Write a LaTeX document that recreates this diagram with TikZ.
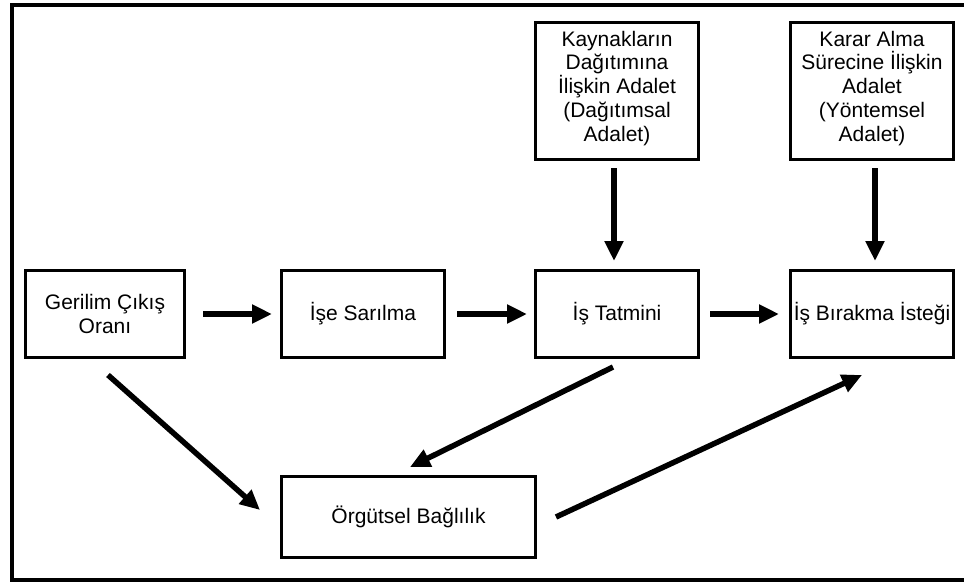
\documentclass[tikz,border=0pt]{standalone}
\usepackage{fontspec}
\setmainfont{Liberation Sans}
\usetikzlibrary{arrows.meta}
\newcommand{\lowpad}{\rule[-10pt]{0pt}{10pt}}
\begin{document}
\begin{tikzpicture}[x=1pt,y=-1pt,
  box/.style={draw,line width=3pt,align=center,inner sep=0pt,minimum height=87pt,font=\fontsize{21}{23.7}\selectfont},
  arr/.style={line width=5.5pt,-{Triangle[length=20pt,width=18pt]}},
  frame/.style={line width=4.5pt}]
\useasboundingbox (0,0) rectangle (964,582);
\draw[frame] (964,5) -- (12,5) -- (12,580) -- (964,580);
\node[box,minimum width=159pt] (g) at (105,314) {Gerilim Çıkış\\Oranı};
\node[box,minimum width=163pt] (s) at (363,314) {İşe Sarılma};
\node[box,minimum width=163pt] (t) at (617,314) {İş Tatmini};
\node[box,minimum width=163pt] (b) at (872,314) {İş Bırakma İsteği};
\node[box,minimum width=163pt,minimum height=137pt] (k) at (617,91) {Kaynakların\\Dağıtımına\\İlişkin Adalet\\(Dağıtımsal\\Adalet)\lowpad};
\node[box,minimum width=163pt,minimum height=137pt] (r) at (872,91) {Karar Alma\\Sürecine İlişkin\\Adalet\\(Yöntemsel\\Adalet)\lowpad};
\node[box,minimum width=254pt,minimum height=81pt] (o) at (408.5,517) {Örgütsel Bağlılık};
\draw[arr,shorten <=17pt,shorten >=8pt] (g) -- (s);
\draw[arr,shorten <=11pt,shorten >=7pt] (s) -- (t);
\draw[arr,shorten <=10pt,shorten >=10pt] (t) -- (b);
\draw[arr] ([xshift=-3pt,yshift=-7pt]k.south) -- ([xshift=-3pt,yshift=8pt]t.north);
\draw[arr] ([xshift=3pt,yshift=-7pt]r.south) -- ([xshift=3pt,yshift=8pt]b.north);
\draw[arr] ([xshift=3pt,yshift=-16pt]g.south) -- ([xshift=-20pt,yshift=7pt]o.west);
\draw[arr] ([xshift=-4pt,yshift=-8pt]t.south) -- ([xshift=1.5pt,yshift=8pt]o.north);
\draw[arr] ([xshift=19pt]o.east) -- ([xshift=-10pt,yshift=-16pt]b.south);
\end{tikzpicture}
\end{document}
